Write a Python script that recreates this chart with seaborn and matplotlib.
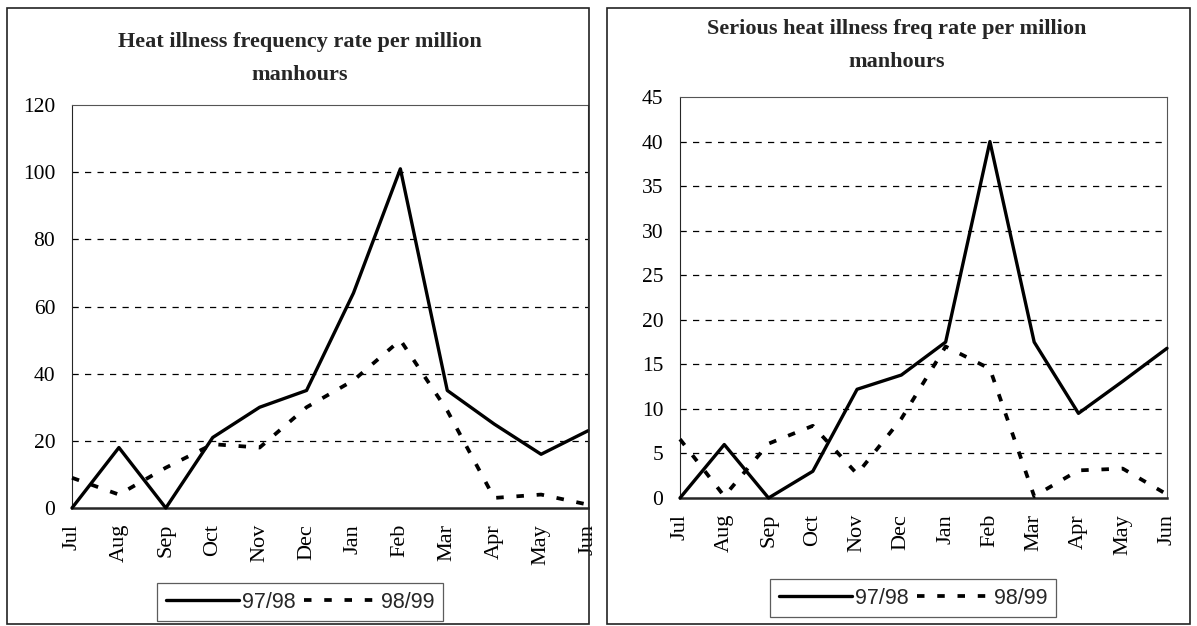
import pandas as pd
import matplotlib.pyplot as plt
import seaborn as sns
from matplotlib.patches import Rectangle

# valeurs
months = ['Jul', 'Aug', 'Sep', 'Oct', 'Nov', 'Dec', 'Jan', 'Feb', 'Mar', 'Apr', 'May', 'Jun']
freq_9798 = [0, 18, 0, 21, 30, 35, 64, 101, 35, 25, 16, 23]
freq_9899 = [9, 4, 12, 19, 18, 30, 38, 50, 29, 3, 4, 1]
serious_9798 = [0, 6, 0, 3, 12.2, 13.8, 17.5, 40, 17.5, 9.5, 13.1, 16.8]
serious_9899 = [6.6, 0.2, 6.1, 8.1, 2.7, 8.9, 17, 14.5, 0.2, 3.1, 3.3, 0.4]
season_labels = ['97/98', '98/99']
titles = ['Heat illness frequency rate per million\nmanhours',
          'Serious heat illness freq rate per million\nmanhours']

sns.set_style('white')
plt.rcParams['font.family'] = ['Liberation Serif', 'DejaVu Serif']

W, H = 1197, 626
fig = plt.figure(figsize=(W / 100, H / 100), dpi=100)


def fx(px):
    return px / W


def fy(py):
    return 1 - py / H


def draw_panel(rect, values_a, values_b, ymax, ystep, title, title_xy, legend_box):
    x0, y0, x1, y1 = rect
    ax = fig.add_axes([fx(x0), fy(y1), fx(x1 - x0), (y1 - y0) / H])
    df = pd.DataFrame({'month': months * 2,
                       'value': list(values_a) + list(values_b),
                       'season': [season_labels[0]] * 12 + [season_labels[1]] * 12})
    pos = {m: i for i, m in enumerate(months)}
    df['x'] = df['month'].map(pos)
    sns.lineplot(data=df[df.season == season_labels[0]], x='x', y='value', ax=ax,
                 color='black', lw=2.4, label=season_labels[0], clip_on=False)
    sns.lineplot(data=df[df.season == season_labels[1]], x='x', y='value', ax=ax,
                 color='black', lw=2.7, linestyle=(0, (2.0, 3.4)),
                 label=season_labels[1], clip_on=False)

    ax.set_xlim(0, 11)
    ax.set_ylim(0, ymax)
    ax.set_xticks(range(12))
    ax.set_xticklabels(months, rotation=90, fontsize=16)
    yt = list(range(0, ymax + 1, ystep))
    ax.set_yticks(yt)
    ax.set_yticklabels([str(v) for v in yt], fontsize=15.5)
    ax.set_xlabel('')
    ax.set_ylabel('')
    for v in yt[1:-1]:
        ax.axhline(v, color='black', lw=0.9, linestyle=(0, (5, 5)), zorder=0)
    ax.tick_params(axis='x', direction='inout', length=9, width=0.8, pad=7, colors='black')
    ax.tick_params(axis='y', direction='out', length=5, width=0.8, pad=7, colors='black')
    ax.tick_params(axis='both', labelcolor='black')
    ax.spines['left'].set_linewidth(0.8)
    ax.spines['bottom'].set_linewidth(1.8)
    for s in ['top', 'right']:
        ax.spines[s].set_linewidth(0.8)
        ax.spines[s].set_color('#555555')
    for s in ax.spines.values():
        s.set_zorder(1)

    lx0, ly0, lx1, ly1 = legend_box
    leg = ax.legend(loc='upper left', bbox_to_anchor=(fx(lx0), fy(ly0)),
                    bbox_transform=fig.transFigure, ncol=2, frameon=True, fancybox=False,
                    handlelength=3.4, handletextpad=0.15, columnspacing=0.4,
                    borderpad=0.4, borderaxespad=0,
                    prop={'family': ['Liberation Sans Narrow', 'Liberation Sans'], 'size': 15.5})
    leg.get_frame().set_edgecolor('#333333')
    leg.get_frame().set_linewidth(0.9)

    fig.text(fx(title_xy[0]), fy(title_xy[1]), title, ha='center', va='top',
             fontsize=16, fontweight='bold', linespacing=1.85)
    return ax


# cadres des deux panneaux
for bx0, bx1 in [(7, 589), (607, 1190)]:
    fig.patches.append(Rectangle((fx(bx0), fy(624)), fx(bx1 - bx0), (624 - 8) / H,
                                 transform=fig.transFigure, fill=False,
                                 edgecolor='#222222', lw=1.2))

draw_panel((72, 105, 588, 508), freq_9798, freq_9899, 120, 20,
           titles[0], (300, 32), (157, 583, 455, 624))
draw_panel((680, 97, 1167, 498), serious_9798, serious_9899, 45, 5,
           titles[1], (897, 19), (770, 579, 1065, 624))

fig.savefig('out.png', dpi=100)
